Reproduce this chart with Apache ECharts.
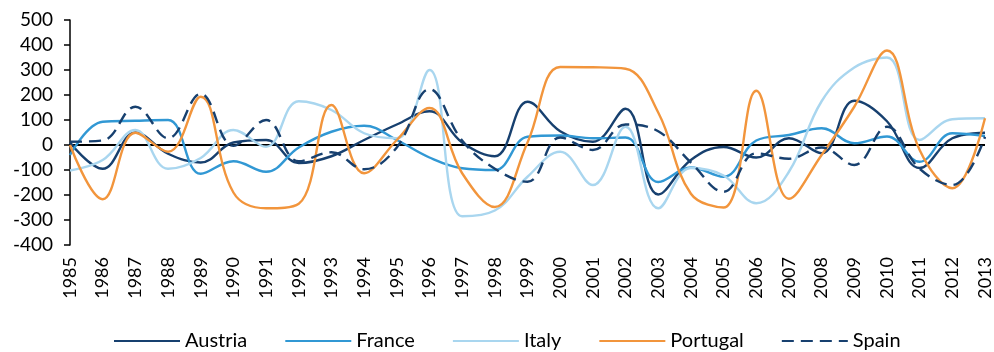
<!DOCTYPE html>
<html>
<head>
<meta charset="utf-8">
<script src="https://cdn.jsdelivr.net/npm/echarts@6/dist/echarts.min.js"></script>
<style>
  html, body { margin: 0; padding: 0; background: #ffffff; }
  #chart { width: 994px; height: 352px; }
</style>
</head>
<body>
<div id="chart"></div>
<script>
// Years on the horizontal axis
const years = ['1985','1986','1987','1988','1989','1990','1991','1992','1993','1994',
  '1995','1996','1997','1998','1999','2000','2001','2002','2003','2004',
  '2005','2006','2007','2008','2009','2010','2011','2012','2013'];

// Annual values per country
const austria  = [10, -95, 50, -35, -70, 10, 20, -72, -45, 20, 82, 135, 10, -45, 173, 55, 13, 145, -198, -60, -8, -50, 27, -33, 177, 95, -92, 27, 49];
const france   = [-40, 93, 97, 100, -115, -65, -107, -10, 53, 77, 20, -50, -93, -100, 33, 38, 27, 30, -148, -90, -127, 18, 40, 67, 7, 34, -67, 47, 36];
const italy    = [-102, -60, 60, -95, -52, 60, -7, 175, 140, 47, 27, 300, -285, -262, -127, -27, -160, 73, -253, -92, -122, -233, -107, 175, 310, 350, 20, 103, 107];
const portugal = [0, -217, 49, -27, 193, -190, -253, -235, 160, -113, 20, 148, -113, -248, 10, 312, 311, 305, 130, -195, -250, 217, -215, -40, 153, 378, -20, -173, 107];
const spain    = [13, 18, 153, 27, 205, -3, 100, -65, -29, -97, -10, 223, 18, -95, -147, 30, -20, 82, 55, -70, -187, -33, -55, -10, -80, 73, -95, -160, 33];

// Value axis range
const yMin = -400, yMax = 500, yStep = 100;

const FONT = 'Lato, "Open Sans", sans-serif';

function lineSeries(name, data, color, type) {
  return {
    name: name,
    type: 'line',
    data: data,
    smooth: 0.4,
    symbol: 'none',
    lineStyle: { color: color, width: 2.4, type: type || 'solid' },
    itemStyle: { color: color },
    z: 3
  };
}

const series = [
  lineSeries('Austria', austria, '#17406f'),
  lineSeries('France', france, '#3198d4'),
  lineSeries('Italy', italy, '#a9d6ef'),
  lineSeries('Portugal', portugal, '#f2953c'),
  lineSeries('Spain', spain, '#17406f', [12, 7])
];

// Horizontal reference line at zero
series[0].markLine = {
  silent: true,
  symbol: ['none', 'none'],
  label: { show: false },
  lineStyle: { color: '#000000', width: 2, type: 'solid' },
  data: [{ yAxis: 0 }],
  z: 1
};

const chart = echarts.init(document.getElementById('chart'), null, { renderer: 'canvas' });
chart.setOption({
  animation: false,
  backgroundColor: '#ffffff',
  grid: { left: 70, right: 6, top: 20, bottom: 107, containLabel: false },
  xAxis: {
    type: 'category',
    data: years,
    boundaryGap: false,
    axisLine: { show: false },
    axisTick: { show: false },
    axisLabel: {
      rotate: 90,
      interval: 0,
      margin: 12,
      color: '#000000',
      fontFamily: FONT,
      fontSize: 18
    },
    splitLine: { show: false }
  },
  yAxis: {
    type: 'value',
    min: yMin,
    max: yMax,
    interval: yStep,
    axisLine: { show: true, lineStyle: { color: '#000000', width: 1.5 } },
    axisTick: { show: true, length: 6, lineStyle: { color: '#000000', width: 1.5 } },
    axisLabel: {
      margin: 17,
      color: '#000000',
      fontFamily: FONT,
      fontSize: 19
    },
    splitLine: { show: false }
  },
  legend: {
    top: 326,
    left: 108,
    itemWidth: 66,
    itemHeight: 14,
    itemGap: 37,
    itemStyle: { opacity: 0 },
    textStyle: { color: '#000000', fontFamily: FONT, fontSize: 20 },
    data: ['Austria', 'France', 'Italy', 'Portugal', 'Spain']
  },
  series: series
});
</script>
</body>
</html>
